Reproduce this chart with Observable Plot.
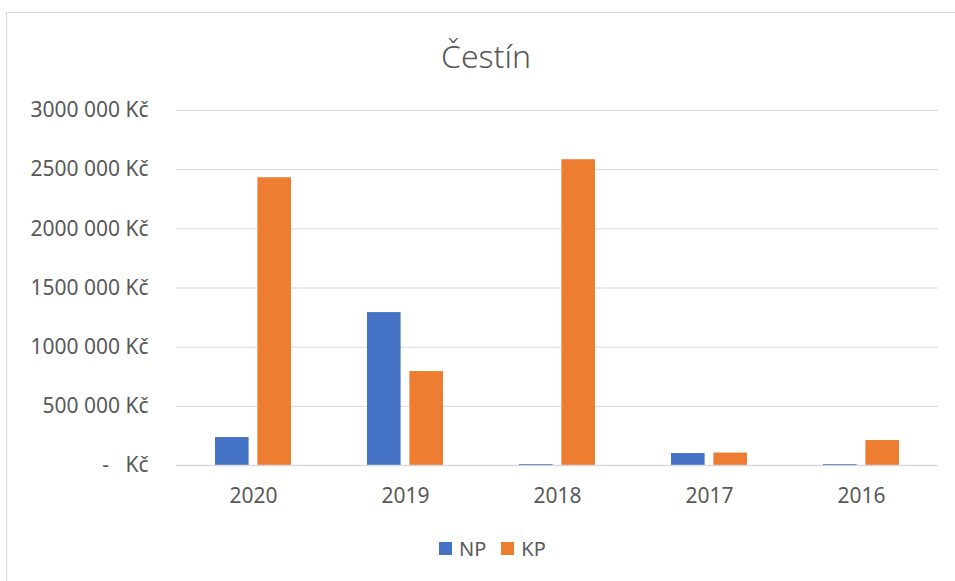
<!DOCTYPE html>
<html>
<head>
<meta charset="utf-8">
<script src="https://cdn.jsdelivr.net/npm/d3@7"></script>
<script src="https://cdn.jsdelivr.net/npm/@observablehq/plot@0.6"></script>
<style>
  html, body { margin: 0; padding: 0; background: #fff; }
  body { width: 955px; height: 581px; position: relative; overflow: hidden; font-family: "Noto Sans", sans-serif; color: #595959; }
  #frame { position: absolute; left: 6px; top: 12px; width: 1000px; height: 700px; border-left: 1.5px solid #d9d9d9; border-top: 1.5px solid #d9d9d9; box-sizing: border-box; }
  #title { position: absolute; left: 0; width: 972px; top: 34px; text-align: center; font-size: 32px; font-weight: 300; color: #595959; }
  #chart { position: absolute; left: 0; top: 0; }
  #legend { position: absolute; top: 535px; left: 439px; font-size: 20px; display: flex; align-items: center; color: #595959; }
  #legend .sw { display: inline-block; width: 13px; height: 13px; margin-right: 7px; }
  #legend .it { display: flex; align-items: center; margin-right: 15px; }
</style>
</head>
<body>
<div id="frame"></div>
<div id="chart"></div>
<div id="title">Čestín</div>
<div id="legend"></div>
<script>
const years = ["2020", "2019", "2018", "2017", "2016"];
const series = ["NP", "KP"];
const colors = ["#4472C4", "#ED7D31"];
const npValues = [236000, 1292000, 8000, 101000, 8000];
const kpValues = [2432000, 794000, 2584000, 105000, 211000];
const yTicks = [0, 500000, 1000000, 1500000, 2000000, 2500000, 3000000];

const npData = years.map((y, i) => ({year: y, series: "NP", value: npValues[i]}));
const kpData = years.map((y, i) => ({year: y, series: "KP", value: kpValues[i]}));

function fmt(d) {
  if (d === 0) return "-\u00a0\u00a0\u00a0Kč";
  const s = String(d);
  return s.slice(0, -3) + " " + s.slice(-3) + " Kč";
}

// band of each year group = 152.4 * 0.5 = 76.2px; each bar ~34px
const bandInset = 42.4;

const chart = Plot.plot({
  width: 955,
  height: 520,
  marginTop: 110,
  marginBottom: 55,
  marginLeft: 176,
  marginRight: 17,
  style: {fontFamily: "'Noto Sans', sans-serif", fontSize: "21px", color: "#595959", background: "transparent"},
  x: {domain: years, paddingInner: 0.5, paddingOuter: 0.25, label: null, tickSize: 0, tickPadding: 23},
  y: {domain: [0, 3000000], ticks: yTicks, tickFormat: fmt, tickSize: 0, tickPadding: 28, label: null},
  color: {domain: series, range: colors},
  marks: [
    Plot.ruleY(yTicks.slice(1), {stroke: "#d9d9d9", strokeWidth: 1}),
    Plot.barY(npData, {x: "year", y: "value", fill: "series", insetLeft: 0, insetRight: bandInset}),
    Plot.barY(kpData, {x: "year", y: "value", fill: "series", insetLeft: bandInset, insetRight: 0}),
    Plot.ruleY([0], {stroke: "#d9d9d9", strokeWidth: 1.5})
  ]
});
document.getElementById("chart").appendChild(chart);

const legend = document.getElementById("legend");
series.forEach((s, i) => {
  const it = document.createElement("span");
  it.className = "it";
  const sw = document.createElement("span");
  sw.className = "sw";
  sw.style.background = colors[i];
  it.appendChild(sw);
  it.appendChild(document.createTextNode(s));
  legend.appendChild(it);
});
</script>
</body>
</html>
